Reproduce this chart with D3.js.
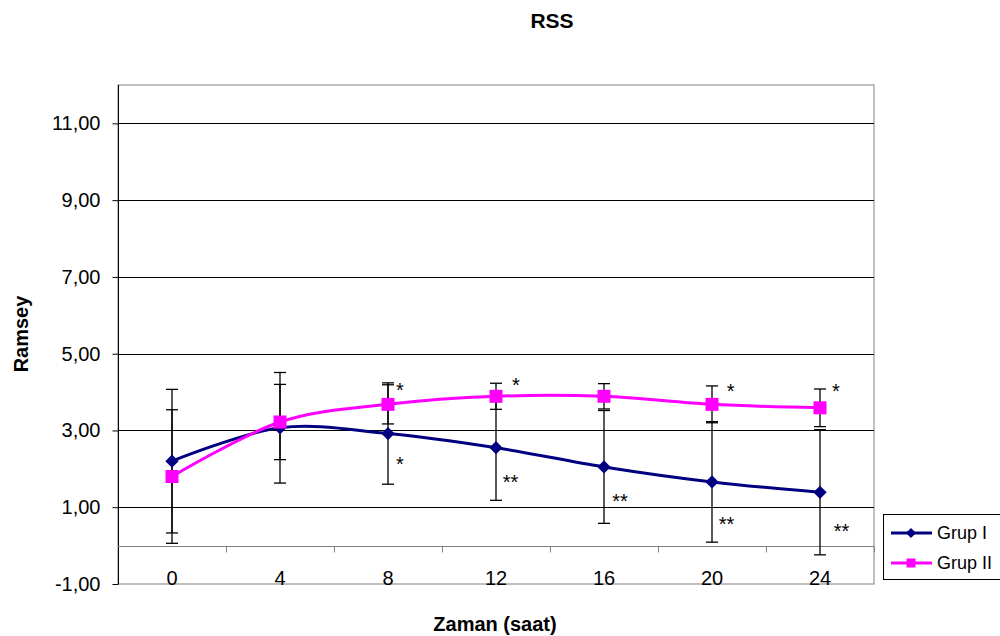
<!DOCTYPE html>
<html>
<head>
<meta charset="utf-8">
<script src="https://cdn.jsdelivr.net/npm/d3@7"></script>
<style>
  body { margin: 0; background: #fff; }
  text { font-family: "Liberation Sans", Arial, sans-serif; fill: #000; }
</style>
</head>
<body>
<div id="chart"></div>
<script>
// hours on the x axis
const hours = [0, 4, 8, 12, 16, 20, 24];
const yTicks = [-1, 1, 3, 5, 7, 9, 11];

// Ramsey scores, mean and SD
const grupI = [2.20, 3.07, 2.92, 2.55, 2.05, 1.66, 1.39];
const grupISd = [1.87, 1.44, 1.32, 1.37, 1.47, 1.57, 1.63];
const grupII = [1.80, 3.22, 3.68, 3.89, 3.89, 3.68, 3.59];
const grupIISd = [1.74, 0.98, 0.51, 0.34, 0.33, 0.48, 0.49];

// significance marks (x in hours, y in score units)
const starsIIx = [8.44, 12.74, 20.69, 24.59];
const starsIIy = [4.18, 4.32, 4.16, 4.16];
const starsIIlab = ["*", "*", "*", "*"];
const starsIx = [8.44, 12.54, 16.59, 20.54, 24.80];
const starsIy = [2.25, 1.78, 1.30, 0.70, 0.52];
const starsIlab = ["*", "**", "**", "**", "**"];

const width = 1000, height = 636;
const pLeft = 118, pRight = 874, pTop = 85, pBottom = 584;

const svg = d3.select("#chart").append("svg")
    .attr("width", width)
    .attr("height", height);

const x = d3.scaleLinear().domain([-2, 26]).range([pLeft, pRight]);
const y = d3.scaleLinear().domain([-1, 12]).range([pBottom, pTop]);

// title
svg.append("text")
    .attr("x", 552).attr("y", 28)
    .attr("text-anchor", "middle")
    .style("font-size", "21px").style("font-weight", "bold")
    .text("RSS");

// plot frame
svg.append("rect")
    .attr("x", pLeft).attr("y", pTop)
    .attr("width", pRight - pLeft).attr("height", pBottom - pTop)
    .attr("fill", "none").attr("stroke", "#808080").attr("stroke-width", 1);

// gridlines
svg.append("g").selectAll("line")
    .data(yTicks.filter(d => d > -1))
    .enter().append("line")
    .attr("x1", pLeft).attr("x2", pRight)
    .attr("y1", d => Math.round(y(d)) + 0.5).attr("y2", d => Math.round(y(d)) + 0.5)
    .attr("stroke", "#000").attr("stroke-width", 1);

// y axis
const yAxis = svg.append("g")
    .attr("transform", `translate(${pLeft + 0.5},0)`)
    .call(d3.axisLeft(y).tickValues(yTicks).tickSize(6).tickPadding(12)
        .tickFormat(d => d.toFixed(2).replace(".", ",")));
yAxis.select(".domain").attr("stroke", "#000").attr("d", `M0,${pTop}V${pBottom}`);
yAxis.selectAll(".tick line").attr("stroke", "#000");
yAxis.selectAll("text").style("font-size", "20px").style("font-family", "Liberation Sans, Arial, sans-serif");

// x axis crossing at 0
const xAxis = svg.append("g")
    .attr("transform", `translate(0,${Math.round(y(0)) + 0.5})`)
    .call(d3.axisBottom(x).tickValues([2, 6, 10, 14, 18, 22, 26]).tickSize(6).tickFormat(""));
xAxis.select(".domain").attr("stroke", "#808080").attr("d", `M${pLeft},0H${pRight}`);
xAxis.selectAll(".tick line").attr("stroke", "#808080");

// category labels sit below the plot
svg.append("g").selectAll("text")
    .data(hours)
    .enter().append("text")
    .attr("x", d => x(d)).attr("y", 585)
    .attr("text-anchor", "middle")
    .style("font-size", "20px")
    .text(d => d);

// axis titles
svg.append("text")
    .attr("x", 495).attr("y", 631)
    .attr("text-anchor", "middle")
    .style("font-size", "20px").style("font-weight", "bold")
    .text("Zaman (saat)");
svg.append("text")
    .attr("transform", "translate(28,334) rotate(-90)")
    .attr("text-anchor", "middle")
    .style("font-size", "20px").style("font-weight", "bold")
    .text("Ramsey");

const series = [
    {name: "Grup I", mean: grupI, sd: grupISd, color: "#000080", diamond: true},
    {name: "Grup II", mean: grupII, sd: grupIISd, color: "#ff00ff", diamond: false}
];

// error bars
series.forEach(s => {
    const g = svg.append("g").attr("stroke", "#000").attr("stroke-width", 1.3);
    hours.forEach((h, i) => {
        const cx = x(h), hi = y(s.mean[i] + s.sd[i]), lo = y(s.mean[i] - s.sd[i]);
        g.append("line").attr("x1", cx).attr("x2", cx).attr("y1", hi).attr("y2", lo);
        g.append("line").attr("x1", cx - 6).attr("x2", cx + 6).attr("y1", hi).attr("y2", hi);
        g.append("line").attr("x1", cx - 6).attr("x2", cx + 6).attr("y1", lo).attr("y2", lo);
    });
});

const line = d3.line()
    .x((d, i) => x(hours[i]))
    .y(d => y(d))
    .curve(d3.curveCardinal.tension(0));

series.forEach(s => {
    svg.append("path")
        .datum(s.mean)
        .attr("d", line)
        .attr("fill", "none")
        .attr("stroke", s.color)
        .attr("stroke-width", 3);
});

// square symbol, turned 45 degrees for the diamond
function marker(s, big) {
    const size = s.diamond ? (big ? 88 : 50) : (big ? 169 : 81);
    return d3.symbol().type(d3.symbolSquare).size(size)();
}

series.forEach(s => {
    svg.append("g").selectAll("path")
        .data(s.mean)
        .enter().append("path")
        .attr("transform", (d, i) => `translate(${x(hours[i])},${y(d)})` + (s.diamond ? " rotate(45)" : ""))
        .attr("d", marker(s, true))
        .attr("fill", s.color);
});

// significance stars
function stars(xs, ys, labs) {
    svg.append("g").selectAll("text")
        .data(labs)
        .enter().append("text")
        .attr("x", (d, i) => x(xs[i]))
        .attr("y", (d, i) => y(ys[i]))
        .attr("dy", "0.6em")
        .attr("text-anchor", "middle")
        .style("font-size", "20px")
        .text(d => d);
}
stars(starsIIx, starsIIy, starsIIlab);
stars(starsIx, starsIy, starsIlab);

// legend
const legend = svg.append("g");
legend.append("rect")
    .attr("x", 883.5).attr("y", 514.5)
    .attr("width", 130).attr("height", 65)
    .attr("fill", "#fff").attr("stroke", "#000").attr("stroke-width", 1);
series.forEach((s, i) => {
    const ly = 533 + i * 30;
    legend.append("line")
        .attr("x1", 891).attr("x2", 932).attr("y1", ly).attr("y2", ly)
        .attr("stroke", s.color).attr("stroke-width", 3);
    legend.append("path")
        .attr("transform", `translate(911,${ly})` + (s.diamond ? " rotate(45)" : ""))
        .attr("d", marker(s, false))
        .attr("fill", s.color);
    legend.append("text")
        .attr("x", 937).attr("y", ly).attr("dy", "0.35em")
        .style("font-size", "18px")
        .text(s.name);
});
</script>
</body>
</html>
